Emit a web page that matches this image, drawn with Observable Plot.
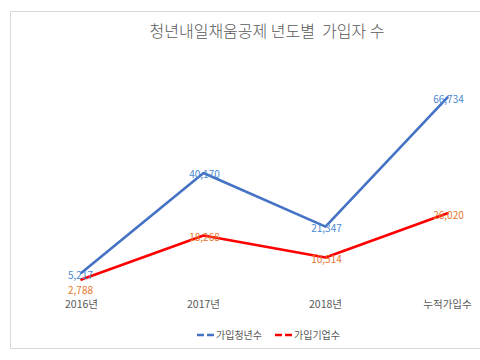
<!DOCTYPE html>
<html>
<head>
<meta charset="utf-8">
<script src="https://cdn.jsdelivr.net/npm/d3@7"></script>
<script src="https://cdn.jsdelivr.net/npm/@observablehq/plot@0.6"></script>
<style>
  html, body { margin: 0; padding: 0; background: #fff; }
  body { width: 480px; height: 360px; overflow: hidden; position: relative; font-family: "Noto Sans CJK KR", "Noto Sans", sans-serif; }
  #frame { position: absolute; left: 10px; top: 11px; width: 520px; height: 338px; border: 1px solid #d9d9d9; box-sizing: border-box; }
  #title { position: absolute; left: 0; top: 18px; width: 534px; text-align: center; font-size: 16px; font-weight: 300; color: #595959; white-space: pre; }
  #chart { position: absolute; left: 0; top: 0; }
  #legend { position: absolute; left: 0; top: 325px; width: 480px; height: 20px; }
</style>
</head>
<body>
<div id="frame"></div>
<div id="title">청년내일채움공제 년도별  가입자 수</div>
<div id="chart"></div>
<svg id="legend" width="480" height="20"></svg>
<script>
const categories = ["2016년", "2017년", "2018년", "누적가입수"];
const youth = [5217, 40170, 21347, 66734];
const firms = [2788, 18268, 10514, 26020];
const seriesNames = ["가입청년수", "가입기업수"];
const lineColors = ["#4472C4", "#FF0000"];
const labelColors = ["#4A8AD0", "#E8772E"];

const rows = [];
categories.forEach((c, i) => {
  rows.push({cat: c, value: youth[i], series: seriesNames[0], i});
  rows.push({cat: c, value: firms[i], series: seriesNames[1], i});
});
const fmt = d3.format(",");

const plot = Plot.plot({
  width: 480,
  height: 360,
  marginLeft: 81,
  marginRight: 33,
  marginTop: 59,
  marginBottom: 73,
  style: {background: "transparent", fontFamily: "'Noto Sans CJK KR', 'Noto Sans', sans-serif"},
  x: {type: "point", domain: categories, padding: 0, label: null},
  y: {domain: [0, 80000], axis: null},
  color: {domain: seriesNames, range: lineColors},
  marks: [
    Plot.axisX({tickSize: 0, tickPadding: 13, fontSize: 10.5, fill: "#595959", label: null}),
    Plot.line(rows, {x: "cat", y: "value", z: "series", stroke: "series", strokeWidth: 2.6, strokeLinejoin: "round"}),
    Plot.text(rows.filter(d => d.i > 0), {x: "cat", y: "value", text: d => fmt(d.value),
      fill: d => d.series === seriesNames[0] ? labelColors[0] : labelColors[1],
      fontSize: 10, dy: 2, dx: 1}),
    Plot.text(rows.filter(d => d.i === 0 && d.series === seriesNames[0]), {x: "cat", y: "value", text: d => fmt(d.value),
      fill: labelColors[0], fontSize: 10, dy: 3, dx: -1}),
    Plot.text(rows.filter(d => d.i === 0 && d.series === seriesNames[1]), {x: "cat", y: "value", text: d => fmt(d.value),
      fill: labelColors[1], fontSize: 10, dy: 11, dx: -1})
  ]
});
document.getElementById("chart").appendChild(plot);

// legend
const lg = d3.select("#legend");
const items = [{x: 197, name: seriesNames[0], c: lineColors[0]}, {x: 275, name: seriesNames[1], c: lineColors[1]}];
items.forEach(it => {
  lg.append("line").attr("x1", it.x).attr("x2", it.x + 18).attr("y1", 10).attr("y2", 10)
    .attr("stroke", it.c).attr("stroke-width", 2.6).attr("stroke-dasharray", "7,3");
  lg.append("text").attr("x", it.x + 19).attr("y", 14).attr("font-size", 10).attr("fill", "#595959")
    .attr("font-family", "'Noto Sans CJK KR', sans-serif").text(it.name);
});
</script>
</body>
</html>
